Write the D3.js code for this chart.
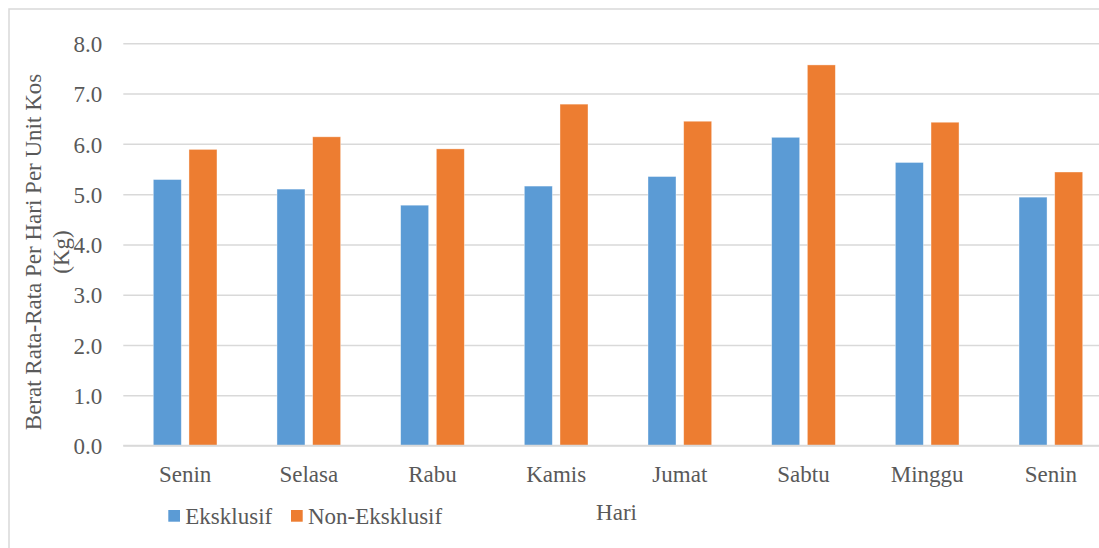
<!DOCTYPE html>
<html>
<head>
<meta charset="utf-8">
<script src="https://cdn.jsdelivr.net/npm/d3@7"></script>
<style>
  body { margin: 0; background: #fff; }
  svg text { font-family: "Liberation Serif", "Times New Roman", serif; fill: #595959; }
  .axis .domain { display: none; }
  .grid line { stroke: #d9d9d9; stroke-width: 1.5; }
</style>
</head>
<body>
<div id="chart"></div>
<script>
// data
var days = ["Senin", "Selasa", "Rabu", "Kamis", "Jumat", "Sabtu", "Minggu", "Senin"];
var series = ["Eksklusif", "Non-Eksklusif"];
var eksklusif = [5.29, 5.10, 4.78, 5.16, 5.35, 6.13, 5.63, 4.94];
var nonEksklusif = [5.89, 6.14, 5.90, 6.79, 6.45, 7.57, 6.43, 5.44];
var yTicks = [0, 1, 2, 3, 4, 5, 6, 7, 8];
var colors = ["#5b9bd5", "#ed7d31"];

var w = 1099;
var h = 548;
// plot area (right edge runs past the picture, like the reference)
var plotL = 123.3, plotR = 1112.7, plotT = 43.3, plotB = 445.5;

var svg = d3.select("#chart")
    .append("svg")
    .attr("width", w)
    .attr("height", h);

// chart frame (right/bottom edges fall outside the picture)
svg.append("rect")
    .attr("x", 9).attr("y", 9)
    .attr("width", 1120).attr("height", 560)
    .attr("fill", "none")
    .attr("stroke", "#d9d9d9")
    .attr("stroke-width", 1.5);

// scales
var xScale = d3.scaleBand()
    .domain(d3.range(days.length))
    .range([plotL, plotR]);

var xInner = d3.scaleBand()
    .domain(series)
    .range([30, xScale.bandwidth() - 30])
    .paddingInner(0.215);

var yScale = d3.scaleLinear()
    .domain([0, 8])
    .range([plotB, plotT]);

var colorScale = d3.scaleOrdinal().domain(series).range(colors);

// gridlines + y labels
var yAxis = d3.axisLeft(yScale)
    .tickValues(yTicks)
    .tickSize(-(plotR - plotL))
    .tickPadding(21)
    .tickFormat(d3.format(".1f"));

svg.append("g")
    .attr("class", "axis grid")
    .attr("transform", "translate(" + plotL + ",0)")
    .call(yAxis)
    .selectAll("text")
    .style("font-size", "23px")
    .attr("dy", "0.36em");

// bars
var rows = days.map(function(d, i) {
    return { i: i, values: [eksklusif[i], nonEksklusif[i]] };
});

var groups = svg.selectAll(".day")
    .data(rows)
    .enter()
    .append("g")
    .attr("class", "day")
    .attr("transform", function(d) { return "translate(" + xScale(d.i) + ",0)"; });

groups.selectAll("rect")
    .data(function(d) {
        return series.map(function(s, k) { return { s: s, v: d.values[k] }; });
    })
    .enter()
    .append("rect")
    .attr("x", function(d) { return xInner(d.s); })
    .attr("width", xInner.bandwidth())
    .attr("y", function(d) { return yScale(d.v); })
    .attr("height", function(d) { return plotB - yScale(d.v); })
    .attr("fill", function(d) { return colorScale(d.s); })
    .attr("stroke", "#fff")
    .attr("stroke-opacity", 0.5)
    .attr("stroke-width", 0.75);

// baseline
svg.append("line")
    .attr("x1", plotL).attr("x2", plotR)
    .attr("y1", plotB).attr("y2", plotB)
    .attr("stroke", "#d9d9d9")
    .attr("stroke-width", 1.5);

// x axis labels
var xAxis = d3.axisBottom(xScale)
    .tickSize(0)
    .tickPadding(20)
    .tickFormat(function(i) { return days[i]; });

svg.append("g")
    .attr("class", "axis")
    .attr("transform", "translate(0," + plotB + ")")
    .call(xAxis)
    .selectAll("text")
    .style("font-size", "23px");

// axis titles
svg.append("text")
    .attr("x", 616.5)
    .attr("y", 520)
    .attr("text-anchor", "middle")
    .style("font-size", "23px")
    .text("Hari");

var yTitle = svg.append("text")
    .attr("transform", "translate(41,252) rotate(-90)")
    .attr("text-anchor", "middle")
    .style("font-size", "23px");
yTitle.append("tspan").attr("x", 0).attr("y", 0).text("Berat Rata-Rata Per Hari Per Unit Kos");
yTitle.append("tspan").attr("x", 0).attr("y", 28).text("(Kg)");

// legend
var legendX = [168.3, 291];
var legend = svg.selectAll(".legend")
    .data(series)
    .enter()
    .append("g")
    .attr("class", "legend")
    .attr("transform", function(d, i) { return "translate(" + legendX[i] + ",510)"; });

legend.append("rect")
    .attr("width", 11.7)
    .attr("height", 11.7)
    .attr("fill", function(d) { return colorScale(d); });

legend.append("text")
    .attr("x", 17)
    .attr("y", 14)
    .style("font-size", "23px")
    .text(function(d) { return d; });
</script>
</body>
</html>
